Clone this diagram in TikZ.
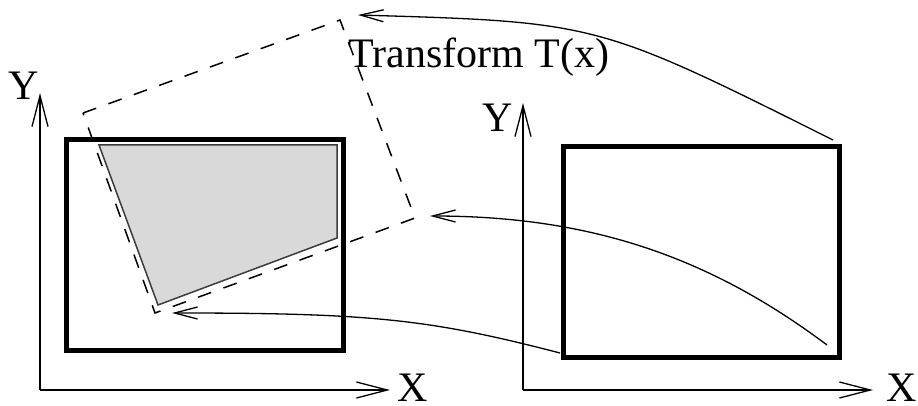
\documentclass[tikz,border=0pt]{standalone}
\usepackage{fontspec}
\setmainfont{Liberation Serif}
\usetikzlibrary{arrows.meta}
\definecolor{shade}{RGB}{217,217,217}
\definecolor{edgegray}{RGB}{60,60,60}
\begin{document}
\begin{tikzpicture}[x=1pt,y=-1pt,
  axis/.style={line width=1.3pt,-{Straight Barb[length=31pt,width=16pt,line width=1.3pt]}},
  mapping/.style={line width=1.3pt,-{Straight Barb[length=23pt,width=12pt,line width=1.3pt]}},
  bigbox/.style={draw,line width=5pt,inner sep=0pt,minimum width=277pt,minimum height=210pt},
  lbl/.style={inner sep=0pt,anchor=base west,font=\fontsize{42}{48}\selectfont},
  region/.style={fill=shade,draw=edgegray,line width=1.5pt,line join=miter},
  frame/.style={draw,line width=1.5pt,dash pattern=on 14pt off 13pt}]
\useasboundingbox (0,0) rectangle (918,406);
% axes
\coordinate (lo) at (40,390);
\coordinate (ly) at (40,93);
\coordinate (lx) at (390,390);
\coordinate (ro) at (523,390);
\coordinate (ry) at (523,103);
\coordinate (rx) at (873,390);
\draw[axis] (lo) -- (ly);
\draw[axis] (lo) -- (lx);
\draw[axis] (ro) -- (ry);
\draw[axis] (ro) -- (rx);
\node[lbl] (lY) at (8,100) {Y};
\node[lbl] (lX) at (397,401) {X};
\node[lbl] (rY) at (482,132) {Y};
\node[lbl] (rX) at (886,401) {X};
% rectangles
\node[bigbox] (lrect) at (204.5,245) {};
\node[bigbox,minimum width=276pt] (rrect) at (701,252) {};
% shaded region
\coordinate (p1) at (99,145);
\coordinate (p2) at (337,145);
\coordinate (p3) at (337,238);
\coordinate (p4) at (158,305);
\draw[region] (p1) -- (p2) -- (p3) -- (p4) -- cycle;
% transformed frame
\coordinate (f1) at (83,113);
\coordinate (f2) at (340,20);
\coordinate (f3) at (415,218);
\coordinate (f4) at (155,313);
\draw[frame] (f1) -- (f2) -- (f3) -- (f4) -- cycle;
% label
\node[lbl] (tlabel) at (348,68) {Transform T(x)};
% mapping arrows
\coordinate (a1s) at (833,140);
\coordinate (a1e) at (358,15);
\coordinate (a2s) at (827,345);
\coordinate (a2e) at (430,216);
\coordinate (a3s) at (560,353);
\coordinate (a3e) at (172,313);
\draw[mapping] (a1s) .. controls (597,22) and (597,22) .. (a1e);
\draw[mapping] (a2s) .. controls (707,255) and (587,216) .. (a2e);
\draw[mapping] (a3s) .. controls (429,319) and (371,313) .. (a3e);
\end{tikzpicture}
\end{document}
